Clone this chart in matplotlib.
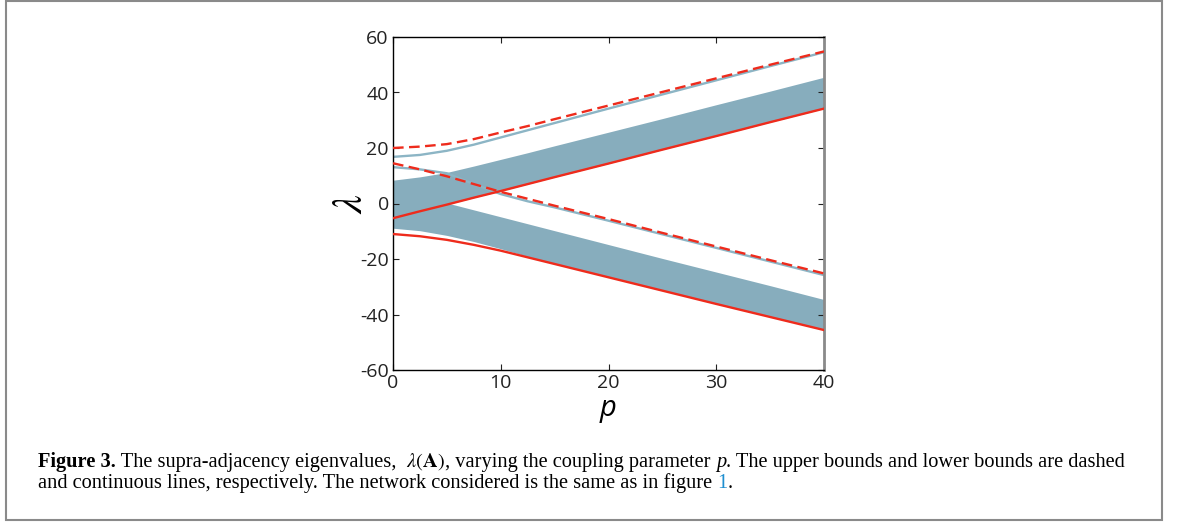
import numpy as np
import matplotlib
matplotlib.use('Agg')
import matplotlib.pyplot as plt
from matplotlib.patches import Rectangle

plt.rcParams['axes.unicode_minus'] = False
plt.rcParams['mathtext.fontset'] = 'stix'

# coupling parameter p and eigenvalue envelopes
p = [0, 2.5, 5, 7.5, 10, 12.5, 15, 20, 25, 30, 35, 40]

upper_dashed_1 = [20.0, 20.5, 21.4, 23.2, 25.6, 27.9, 30.4, 35.3, 40.2, 45.1, 50.0, 54.8]
largest_eig = [16.8, 17.5, 19.0, 21.2, 23.8, 26.4, 29.0, 34.2, 39.3, 44.4, 49.5, 54.5]
upper_dashed_2 = [14.5, 12.3, 9.8, 7.0, 4.2, 1.7, -0.8, -5.6, -10.6, -15.5, -20.4, -25.2]
second_eig = [13.1, 12.3, 10.9, 7.0, 3.4, 0.8, -1.4, -6.2, -11.1, -16.0, -20.9, -25.8]

rise_top = [8.4, 9.6, 11.2, 13.5, 15.9, 18.3, 20.8, 25.7, 30.6, 35.6, 40.5, 45.5]
lower_solid_1 = [-5.3, -2.8, -0.4, 2.1, 4.5, 7.0, 9.5, 14.4, 19.4, 24.3, 29.3, 34.2]
fall_top = [5.0, 2.6, 0.2, -2.3, -4.8, -7.3, -9.8, -14.8, -19.8, -24.7, -29.6, -34.6]
fall_bottom = [-8.9, -9.8, -11.5, -13.7, -16.3, -19.1, -21.6, -26.5, -31.3, -36.1, -40.8, -45.5]
lower_solid_2 = [-11.0, -11.8, -13.1, -14.9, -17.0, -19.4, -21.8, -26.6, -31.4, -36.2, -40.9, -45.6]

xticks = [0, 10, 20, 30, 40]
yticks = [-60, -40, -20, 0, 20, 40, 60]

band_col = '#87adbd'
line_col = '#8cb5c5'
red = '#ee2b1c'

fig = plt.figure(figsize=(11.79, 5.22), dpi=100)
ax = fig.add_axes([393 / 1179, 1 - 370 / 522, 431 / 1179, 333 / 522])

ax.fill_between(p, lower_solid_1, rise_top, color=band_col, lw=0, zorder=1)
ax.fill_between(p, fall_bottom, fall_top, color=band_col, lw=0, zorder=1)

ax.plot(p, largest_eig, color=line_col, lw=1.7, zorder=2)
ax.plot(p, second_eig, color=line_col, lw=1.7, zorder=2)

ax.plot(p, upper_dashed_1, color=red, lw=1.7, dashes=(4.5, 2.3), zorder=3)
ax.plot(p, upper_dashed_2, color=red, lw=1.7, dashes=(4.5, 2.3), zorder=3)
ax.plot(p, lower_solid_1, color=red, lw=1.7, zorder=3)
ax.plot(p, lower_solid_2, color=red, lw=1.7, zorder=3)

ax.set_xlim(0, 40)
ax.set_ylim(-60, 60)
ax.set_xticks(xticks)
ax.set_yticks(yticks)
ax.tick_params(direction='in', top=True, right=True, length=4, width=0.8,
               labelsize=14, pad=3, colors='#222222')
for lab in ax.get_xticklabels() + ax.get_yticklabels():
    lab.set_family('Open Sans')
for s in ['left', 'bottom', 'top']:
    ax.spines[s].set_color('black')
    ax.spines[s].set_linewidth(1.0)
ax.spines['right'].set_color('#8a8a8a')
ax.spines['right'].set_linewidth(2.0)

ax.set_xlabel('p', fontsize=21, style='italic', family='Open Sans', labelpad=1)
ax.set_ylabel(r'$\lambda$', fontsize=30, labelpad=-8)

# frame around the whole figure
fig.patches.append(Rectangle((6 / 1179, 1 - 520 / 522), 1156 / 1179, 519 / 522,
                             transform=fig.transFigure, fill=False,
                             edgecolor='#8a8a8a', lw=1.5))

# caption, placed piece by piece
renderer = fig.canvas.get_renderer()


def caption_line(pieces, x0, y):
    x = x0
    for txt, kw in pieces:
        t = fig.text(x, y, txt, fontsize=14.65, va='baseline',
                     family='Liberation Serif', **kw)
        bb = t.get_window_extent(renderer)
        x = bb.x1 / fig.bbox.width


line1 = [('Figure 3.', dict(weight='bold')),
         (' The supra-adjacency eigenvalues,  ', {}),
         (r'$\lambda(\mathbf{A})$', {}),
         (', varying the coupling parameter ', {}),
         ('p', dict(style='italic')),
         ('. The upper bounds and lower bounds are dashed', {})]
line2 = [('and continuous lines, respectively. The network considered is the same as in figure ', {}),
         ('1', dict(color='#1f8fd0')),
         ('.', {})]

caption_line(line1, 38 / 1179, 1 - 467 / 522)
caption_line(line2, 38 / 1179, 1 - 488 / 522)

fig.savefig('out.png', dpi=100)
